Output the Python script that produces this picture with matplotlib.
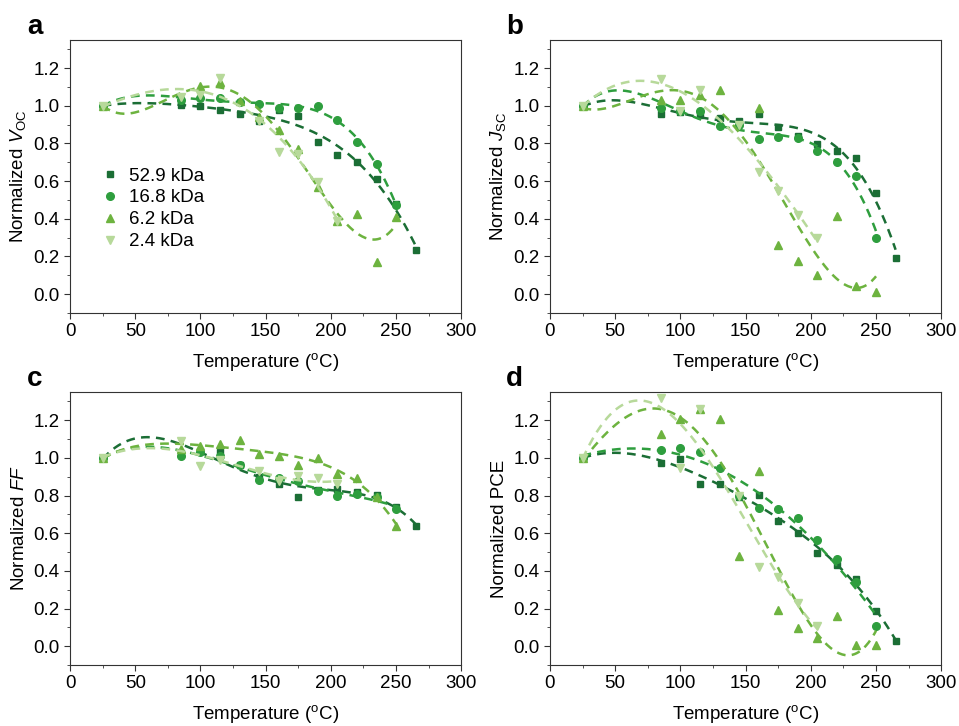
import matplotlib
matplotlib.use("Agg")
import matplotlib.pyplot as plt
import numpy as np
from matplotlib.ticker import MultipleLocator, FormatStrFormatter

plt.rcParams['font.family'] = ['Liberation Sans', 'DejaVu Sans']
plt.rcParams['mathtext.fontset'] = 'custom'
plt.rcParams['mathtext.rm'] = 'Liberation Sans'
plt.rcParams['mathtext.it'] = 'Liberation Sans:italic'

nan = np.nan
temps = [25, 85, 100, 115, 130, 145, 160, 175, 190, 205, 220, 235, 250, 265]
labels = ['52.9 kDa', '16.8 kDa', '6.2 kDa', '2.4 kDa']

voc_529 = [1.0, 1.005, 1.0, 0.98, 0.955, 0.92, 0.977, 0.947, 0.81, 0.74, 0.70, 0.61, 0.48, 0.235]
voc_168 = [1.0, 1.03, 1.044, 1.04, 1.02, 1.01, 0.99, 0.99, 1.0, 0.926, 0.807, 0.693, 0.474, nan]
voc_62 = [1.0, nan, 1.105, 1.128, 1.023, 0.94, 0.872, 0.772, 0.567, 0.386, 0.426, 0.172, 0.412, nan]
voc_24 = [1.0, 1.045, 1.06, 1.149, nan, 0.92, 0.754, 0.746, 0.596, 0.386, nan, nan, nan, nan]

jsc_529 = [1.0, 0.956, 0.965, 0.95, 0.935, 0.92, 0.956, 0.887, 0.84, 0.797, 0.762, 0.723, 0.538, 0.194]
jsc_168 = [1.0, 0.988, 0.97, 0.97, 0.894, 0.90, 0.824, 0.833, 0.83, 0.762, 0.70, 0.626, 0.30, nan]
jsc_62 = [1.0, 1.03, 1.03, 1.058, 1.085, nan, 0.988, 0.259, 0.175, 0.10, 0.414, 0.044, 0.009, nan]
jsc_24 = [1.0, 1.141, 0.97, 1.085, nan, 0.90, 0.647, 0.547, 0.418, 0.30, nan, nan, nan, nan]

ff_529 = [1.0, 1.024, 1.036, 1.03, 0.965, 0.90, 0.864, 0.793, 0.832, 0.835, 0.818, 0.805, 0.738, 0.636]
ff_168 = [1.0, 1.01, 1.03, 1.01, 0.96, 0.882, 0.894, 0.878, 0.823, 0.80, 0.81, 0.79, 0.73, nan]
ff_62 = [1.0, 1.05, 1.066, 1.076, 1.095, 1.019, 1.01, 0.965, 1.001, 0.917, 0.894, 0.793, 0.636, nan]
ff_24 = [1.0, 1.09, 0.956, 0.99, nan, 0.93, 0.88, 0.903, 0.894, 0.859, nan, nan, nan, nan]

pce_529 = [1.0, 0.971, 0.996, 0.859, 0.859, 0.79, 0.805, 0.667, 0.60, 0.494, 0.432, 0.356, 0.188, 0.028]
pce_168 = [1.0, 1.042, 1.054, 1.03, 0.948, 0.80, 0.734, 0.73, 0.681, 0.565, 0.462, 0.343, 0.107, nan]
pce_62 = [1.0, 1.125, 1.209, 1.262, 1.205, 0.48, 0.933, 0.192, 0.094, 0.041, 0.16, 0.005, 0.005, nan]
pce_24 = [1.0, 1.316, 0.948, 1.262, nan, 0.80, 0.423, 0.37, 0.228, 0.107, nan, nan, nan, nan]

# polynomial order of the trend line for each series
fit_order = {'a': [4, 4, 4, 3], 'b': [4, 4, 4, 3], 'c': [4, 4, 4, 3], 'd': [4, 3, 4, 3]}

colors = ['#1b6e35', '#2e9e3e', '#6db33f', '#b7d99a']
markers = ['s', 'o', '^', 'v']
msizes = [5, 5.5, 6, 6]

panels = [
    ('a', r'Normalized $\mathit{V}_{\mathrm{OC}}$', [voc_529, voc_168, voc_62, voc_24]),
    ('b', r'Normalized $\mathit{J}_{\mathrm{SC}}$', [jsc_529, jsc_168, jsc_62, jsc_24]),
    ('c', r'Normalized $\mathit{FF}$', [ff_529, ff_168, ff_62, ff_24]),
    ('d', 'Normalized PCE', [pce_529, pce_168, pce_62, pce_24]),
]
boxes = [(0.073, 0.569), (0.5735, 0.569), (0.073, 0.084), (0.5735, 0.084)]

fig = plt.figure(figsize=(9.59, 7.26), dpi=100)
t = np.array(temps, dtype=float)
for (letter, ylab, series), (x0, y0) in zip(panels, boxes):
    ax = fig.add_axes([x0, y0, 0.408, 0.376])
    for vals, c, m, ms, lab, deg in zip(series, colors, markers, msizes, labels, fit_order[letter]):
        v = np.array(vals, dtype=float)
        ok = ~np.isnan(v)
        ax.plot(t[ok], v[ok], ls='none', marker=m, ms=ms, color=c, label=lab)
        p = np.polyfit(t[ok], v[ok], deg)
        tt = np.linspace(t[ok].min(), t[ok].max(), 200)
        ax.plot(tt, np.polyval(p, tt), ls=(0, (3.5, 2.5)), lw=1.8, color=c)
    ax.set_xlim(0, 300)
    ax.set_ylim(-0.1, 1.35)
    ax.xaxis.set_major_locator(MultipleLocator(50))
    ax.xaxis.set_minor_locator(MultipleLocator(25))
    ax.yaxis.set_major_locator(MultipleLocator(0.2))
    ax.yaxis.set_minor_locator(MultipleLocator(0.1))
    ax.yaxis.set_major_formatter(FormatStrFormatter('%.1f'))
    ax.tick_params(which='both', direction='out', labelsize=13.5, color='#333333', pad=3)
    ax.tick_params(which='major', length=4.5)
    ax.tick_params(which='minor', length=2.5)
    for s in ax.spines.values():
        s.set_color('#333333')
        s.set_linewidth(0.8)
    ax.set_xlabel(r'Temperature ($^{\mathrm{o}}$C)', fontsize=13.5, labelpad=7.5)
    ax.set_ylabel(ylab, fontsize=13.5, labelpad=4)
    ax.text(-0.09, 1.048, letter, transform=ax.transAxes, fontsize=20,
            fontweight='bold', ha='center', va='center')
    if letter == 'a':
        ax.legend(loc='upper left', bbox_to_anchor=(0.06, 0.56), frameon=False,
                  fontsize=13.5, handletextpad=0.5, labelspacing=0.25,
                  handlelength=1.0, borderaxespad=0)

fig.savefig('out.png', dpi=100)
